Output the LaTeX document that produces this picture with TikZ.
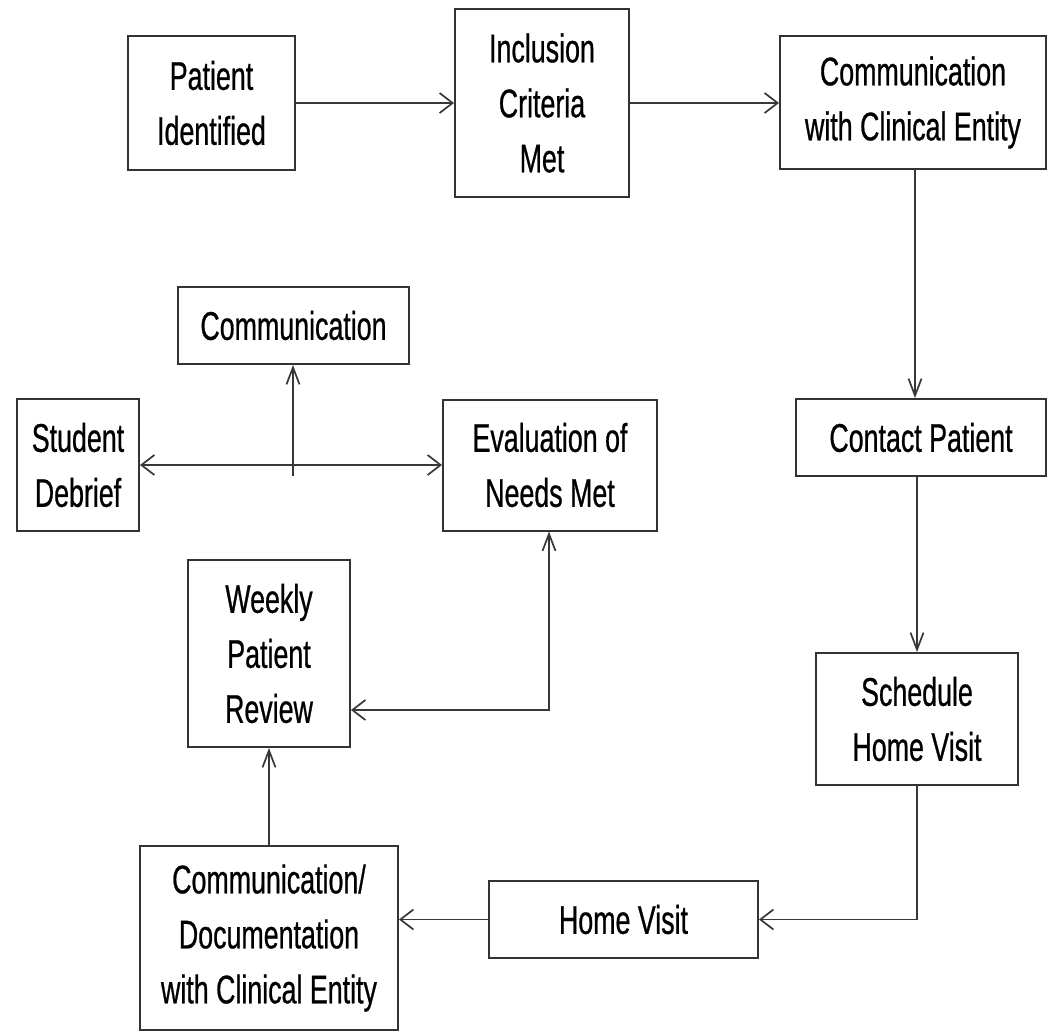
\documentclass[tikz,border=0pt]{standalone}
\usepackage{fontspec}
\setmainfont[FakeStretch=0.67,FakeBold=0.6]{Liberation Sans}
\usetikzlibrary{arrows.meta}
\begin{document}
\begin{tikzpicture}[x=1pt,y=-1pt,
  box/.style={draw=black!80, line width=2pt, fill=white, align=center, inner sep=0pt,
    font=\fontsize{40}{55}\selectfont},
  conn/.style={draw=black!78, line width=1.7pt},
  ha/.style={-{Straight Barb[length=13pt,width=20pt]}},
  va/.style={-{Straight Barb[length=17pt,width=13pt]}},
  hh/.style={{Straight Barb[length=13pt,width=20pt]}-{Straight Barb[length=13pt,width=20pt]}},
  vh/.style={{Straight Barb[length=17pt,width=13pt]}-{Straight Barb[length=13pt,width=20pt]}}]
\useasboundingbox (0,0) rectangle (1058,1034);
\fill[white] (0,0) rectangle (1058,1034);

\node[box, minimum width=167pt, minimum height=134pt] (pi)   at (211.5,103)  {Patient\\Identified};
\node[box, minimum width=174pt, minimum height=188pt] (icm)  at (542,103)    {Inclusion\\Criteria\\Met};
\node[box, minimum width=266pt, minimum height=133pt] (cce)  at (913,102.5)  {Communication\\with Clinical Entity};
\node[box, minimum width=231pt, minimum height=77pt]  (comm) at (293.5,325.5){Communication};
\node[box, minimum width=122pt, minimum height=132pt] (sd)   at (78,465)     {Student\\Debrief};
\node[box, minimum width=214pt, minimum height=131pt] (enm)  at (550,465)    {Evaluation of\\Needs Met};
\node[box, minimum width=250pt, minimum height=77pt]  (cp)   at (921,437.5)  {Contact Patient};
\node[box, minimum width=162pt, minimum height=187pt] (wpr)  at (269,653.5)  {Weekly\\Patient\\Review};
\node[box, minimum width=202pt, minimum height=132pt] (shv)  at (917,719)    {Schedule\\Home Visit};
\node[box, minimum width=269pt, minimum height=77pt]  (hv)   at (623.5,919.5){Home Visit};
\node[box, minimum width=258pt, minimum height=184pt] (cdce) at (269,938)    {Communication/\\Documentation\\with Clinical Entity};

\coordinate (cj) at (293,476);
\coordinate (wj) at (549,710);

\draw[conn,ha] (pi.east) -- (pi.east -| icm.west);
\draw[conn,ha] (icm.east) -- (icm.east -| cce.west);
\draw[conn,va] ([xshift=2pt]cce.south) -- ([xshift=2pt]cce.south |- cp.north);
\draw[conn,va] ([xshift=-4pt]cp.south) -- ([xshift=-4pt]cp.south |- shv.north);
\draw[conn,ha] (shv.south) |- (hv.east);
\draw[conn,ha] (hv.west) -- (hv.west -| cdce.east);
\draw[conn,va] (cdce.north) -- (wpr.south);
\draw[conn,vh] (wj |- enm.south) -- (wj) -- (wj -| wpr.east);
\draw[conn,hh] (sd.east) -- (sd.east -| enm.west);
\draw[conn,va] (cj) -- (cj |- comm.south);
\end{tikzpicture}
\end{document}
